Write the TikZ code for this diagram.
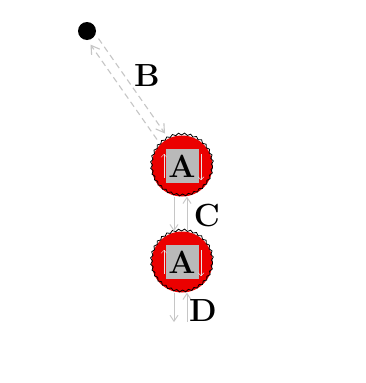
\documentclass[tikz,border=0pt]{standalone}
\usepackage{fontspec}
\usetikzlibrary{arrows.meta,decorations.pathmorphing}
\tikzset{
  token/.style={circle, minimum size=61pt, inner sep=0pt, fill=red!92!black,
    font=\fontsize{32}{32}\selectfont\bfseries,
    path picture={
      \fill[gray!55] ([shift={(-16pt,-17pt)}]path picture bounding box.center)
        rectangle ([shift={(17pt,17pt)}]path picture bounding box.center);
      \draw[gray!20,thin,-{Straight Barb[length=3pt]}]
        ([shift={(-18pt,-12pt)}]path picture bounding box.center) -- ++(0,24pt);
      \draw[gray!20,thin,-{Straight Barb[length=3pt]}]
        ([shift={(19pt,12pt)}]path picture bounding box.center) -- ++(0,-26pt);
    },
    postaction={draw=black, line width=0.8pt, decorate,
      decoration={snake, segment length=6pt, amplitude=1pt}}},
  lbl/.style={font=\fontsize{32}{32}\selectfont\bfseries},
  link/.style={gray!45, line width=0.9pt, -{Straight Barb[length=6pt,width=8pt]}},
  flow/.style={gray!45, dash pattern=on 6pt off 4pt, line width=1.1pt,
    -{Straight Barb[length=8pt,width=10pt]}}
}
\begin{document}
\begin{tikzpicture}[x=1pt,y=-1pt]
  \useasboundingbox[fill=white] (0,0) rectangle (366,383);
  % source and tokens
  \node[circle, fill=black, minimum size=18pt, inner sep=0pt] (src) at (87,31) {};
  \node[token] (a1) at (182,166) {A};
  \node[token] (a2) at (182,262) {A};
  \coordinate (out) at (182,322);
  % dashed pair
  \draw[flow] ([shift={(11.5,7.6)}]src.center) -- ([shift={(-17,-32.5)}]a1.center);
  \draw[flow] ([shift={(-25,-26.5)}]a1.center) -- ([shift={(3.5,13.6)}]src.center);
  \node[lbl] (b) at (147,76) {B};
  % between tokens
  \draw[link] ([xshift=-8pt]a1.south) -- ([xshift=-8pt]a2.north);
  \draw[link] ([xshift=5pt]a2.north) -- ([xshift=5pt]a1.south);
  \node[lbl] (c) at (207,216) {C};
  % below
  \draw[link] ([xshift=-8pt]a2.south) -- ([xshift=-8pt]out);
  \draw[link] ([xshift=5pt]out) -- ([xshift=5pt]a2.south);
  \node[lbl] (d) at (203,311) {D};
\end{tikzpicture}
\end{document}
